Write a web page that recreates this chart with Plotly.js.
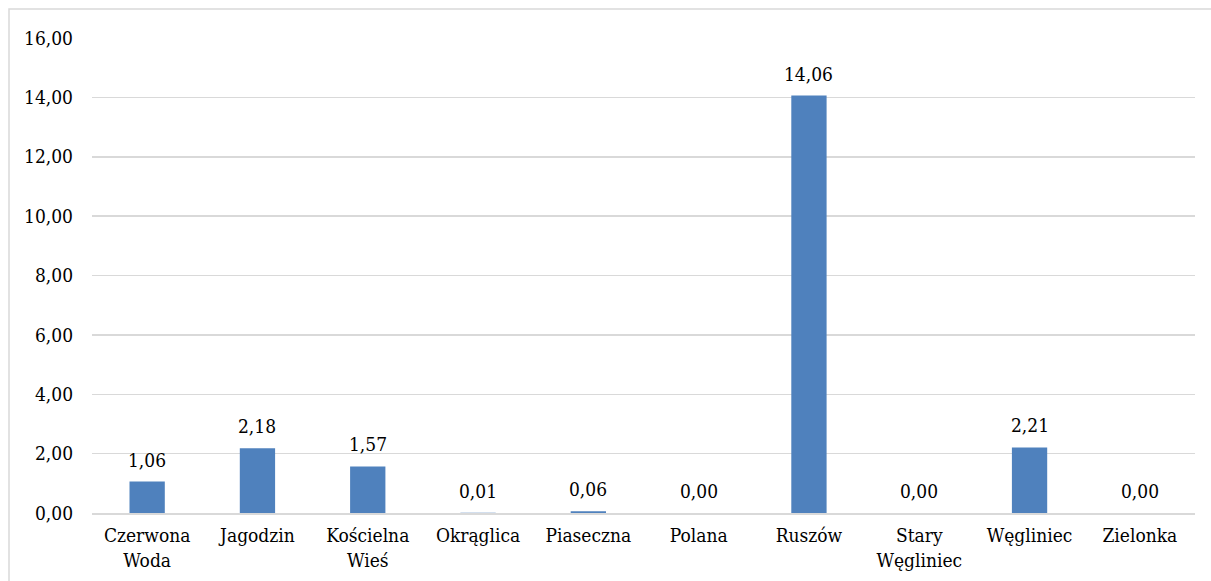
<!DOCTYPE html>
<html>
<head>
<meta charset="utf-8">
<script src="https://cdn.plot.ly/plotly-3.0.1.min.js"></script>
<style>
html,body{margin:0;padding:0;background:#fff;}
#chart{width:1211px;height:581px;}
</style>
</head>
<body>
<div id="chart"></div>
<script>
const categories = ["Czerwona<br>Woda", "Jagodzin", "Kościelna<br>Wieś", "Okrąglica", "Piaseczna", "Polana", "Ruszów", "Stary<br>Węgliniec", "Węgliniec", "Zielonka"];
const values = [1.06, 2.18, 1.57, 0.01, 0.06, 0.00, 14.06, 0.00, 2.21, 0.00];
const yTicks = [0, 2, 4, 6, 8, 10, 12, 14, 16];

const font = {family: "DejaVu Serif Condensed, DejaVu Serif", size: 19, color: "#000"};

const trace = {
  type: "bar",
  x: categories,
  y: values,
  marker: {color: "#4f81bd"},
  hoverinfo: "none"
};

const annotations = categories.map((c, i) => ({
  x: c, y: values[i], xref: "x", yref: "y",
  text: values[i].toFixed(2).replace(".", ","),
  showarrow: false, yanchor: "bottom", yshift: 9,
  font: font
}));

const layout = {
  width: 1211, height: 581,
  margin: {l: 92, r: 16, t: 38, b: 68},
  paper_bgcolor: "#fff", plot_bgcolor: "#fff",
  separators: ", ",
  font: font,
  showlegend: false,
  bargap: 0.68,
  xaxis: {
    type: "category",
    showgrid: false,
    showline: true, linecolor: "#d9d9d9", linewidth: 1.5,
    ticks: "", tickfont: font, ticklabelstandoff: 5
  },
  yaxis: {
    range: [0, 16],
    tickvals: yTicks,
    tickformat: ".2f",
    showgrid: true, gridcolor: "#d9d9d9", gridwidth: 1.5,
    zeroline: false, showline: false,
    ticks: "", tickfont: font, ticklabelstandoff: 18
  },
  annotations: annotations,
  shapes: [{
    type: "rect", xref: "paper", yref: "paper",
    x0: -83/1103, x1: 1.2, y0: -0.5, y1: (513-9)/475,
    line: {color: "#d9d9d9", width: 1.5}, fillcolor: "rgba(0,0,0,0)", layer: "below"
  }]
};

Plotly.newPlot("chart", [trace], layout, {displayModeBar: false, staticPlot: true});
</script>
</body>
</html>
